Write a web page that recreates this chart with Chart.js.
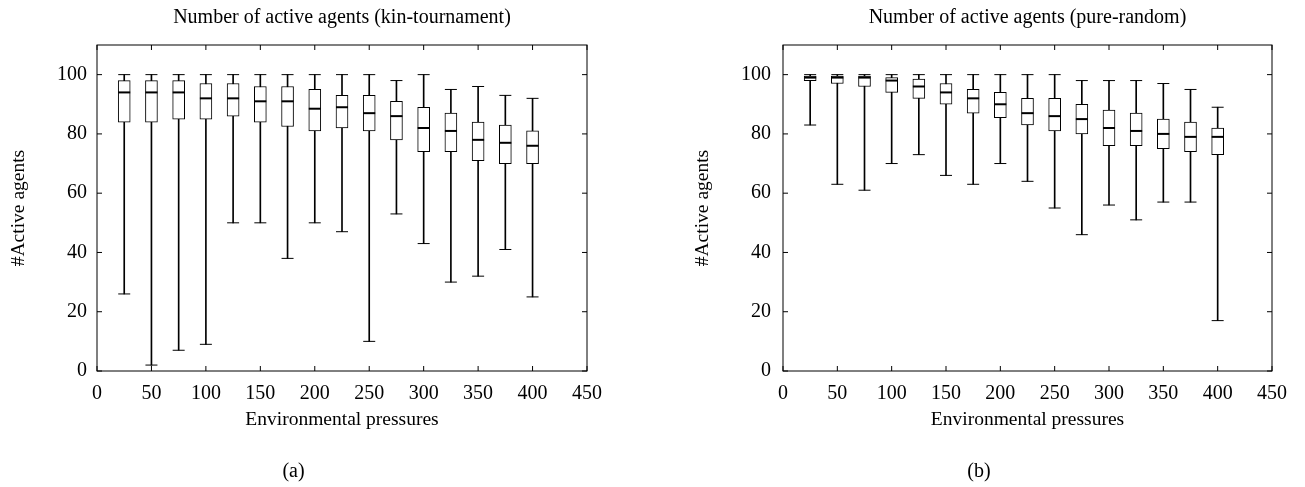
<!DOCTYPE html>
<html><head><meta charset="utf-8">
<script src="https://cdn.jsdelivr.net/npm/chart.js@4/dist/chart.umd.min.js"></script>
<style>
html,body{margin:0;padding:0;background:#fff;}
body{width:1305px;height:487px;position:relative;overflow:hidden;}
#c1{position:absolute;left:0;top:0;}
#c2{position:absolute;left:686px;top:0;}
</style></head><body>
<canvas id="c1" width="652" height="487"></canvas>
<canvas id="c2" width="619" height="487"></canvas>
<script>
// ---- data ----
const pressures = [25,50,75,100,125,150,175,200,225,250,275,300,325,350,375,400];
const xTickValues = [0,50,100,150,200,250,300,350,400,450];
const yTickValues = [0,20,40,60,80,100];

// kin-tournament
const kinMax = [100,100,100,100,100,100,100,100,100,100,98,100,95,96,93,92];
const kinQ3  = [98,98,98,97,97,96,96,95,93,93,91,89,87,84,83,81];
const kinMed = [94,94,94,92,92,91,91,88.5,89,87,86,82,81,78,77,76];
const kinQ1  = [84,84,85,85,86,84,82.5,81,82,81,78,74,74,71,70,70];
const kinMin = [26,2,7,9,50,50,38,50,47,10,53,43,30,32,41,25];

// pure-random
const randMax = [100,100,100,100,100,100,100,100,100,100,98,98,98,97,95,89];
const randQ3  = [99.5,99.5,99.5,99,98.5,97,95,94,92,92,90,88,87,85,84,82];
const randMed = [99,99,99,98,96,94,92,90,87,86,85,82,81,80,79,79];
const randQ1  = [98,97,96,94,92,90,87,85.5,83,81,80,76,76,75,74,73];
const randMin = [83,63,61,70,73,66,63,70,64,55,46,56,51,57,57,17];

Chart.defaults.font.family = "'Liberation Serif', 'Times New Roman', serif";
Chart.defaults.color = '#000';

const framePlugin = {
  id: 'frame',
  afterDatasetsDraw(chart) {
    const {ctx, chartArea: a, scales: {x, y}} = chart;
    ctx.save();
    ctx.strokeStyle = '#000';
    ctx.lineWidth = 1;
    ctx.strokeRect(a.left, a.top, a.right - a.left, a.bottom - a.top);
    const L = 5;
    ctx.beginPath();
    x.ticks.forEach(t => {
      const px = x.getPixelForValue(t.value);
      ctx.moveTo(px, a.bottom); ctx.lineTo(px, a.bottom - L);
      ctx.moveTo(px, a.top); ctx.lineTo(px, a.top + L);
    });
    y.ticks.forEach(t => {
      const py = y.getPixelForValue(t.value);
      ctx.moveTo(a.left, py); ctx.lineTo(a.left + L, py);
      ctx.moveTo(a.right, py); ctx.lineTo(a.right - L, py);
    });
    ctx.stroke();
    ctx.restore();
  }
};

function makeChart(id, title, caption, mins, q1s, meds, q3s, maxs, yTitlePad, yTickPad, rightPad) {
  const whiskers = pressures.map((p, i) => ({x: p, y: [mins[i], maxs[i]]}));
  const boxes = pressures.map((p, i) => ({x: p, y: [q1s[i], q3s[i]]}));
  const caps = pressures.map((p, i) => ({x: p, y: mins[i]})).concat(pressures.map((p, i) => ({x: p, y: maxs[i]})));
  const medians = pressures.map((p, i) => ({x: p, y: meds[i]}));
  return new Chart(document.getElementById(id), {
    type: 'bar',
    data: {
      datasets: [
        {type: 'bar', data: whiskers, backgroundColor: '#000', borderWidth: 0, barThickness: 1, grouped: false, order: 3},
        {type: 'bar', data: boxes, backgroundColor: '#fff', borderColor: '#000', borderWidth: 1, borderSkipped: false, barThickness: 12, grouped: false, order: 2},
        {type: 'scatter', data: caps, pointStyle: 'line', pointRadius: 6, borderColor: '#000', pointBorderWidth: 1, order: 1},
        {type: 'scatter', data: medians, pointStyle: 'line', pointRadius: 6, borderColor: '#000', pointBorderWidth: 2, order: 0}
      ]
    },
    options: {
      responsive: false,
      animation: false,
      events: [],
      layout: {padding: {left: 0, right: rightPad, top: 0, bottom: 0}},
      plugins: {
        legend: {display: false},
        tooltip: {enabled: false},
        title: {display: true, text: title, fullSize: false, font: {size: 20, weight: 'normal'}, padding: {top: 6, bottom: 15}},
        subtitle: {display: true, text: caption, position: 'bottom', fullSize: true, font: {size: 20, weight: 'normal'}, padding: {top: 10, bottom: 3}}
      },
      scales: {
        x: {
          type: 'linear', min: 0, max: 450, offset: false,
          afterBuildTicks: s => { s.ticks = xTickValues.map(v => ({value: v})); },
          afterFit: s => { s.height = 79; },
          grid: {display: false, drawTicks: false},
          border: {display: false},
          ticks: {font: {size: 20}, padding: 11, maxRotation: 0, autoSkip: false},
          title: {display: true, text: 'Environmental pressures', font: {size: 19.5}, padding: {top: 0, bottom: 18.6}}
        },
        y: {
          type: 'linear', min: 0, max: 110,
          afterBuildTicks: s => { s.ticks = yTickValues.map(v => ({value: v})); },
          afterFit: s => { s.width = 97; },
          grid: {display: false, drawTicks: false},
          border: {display: false},
          ticks: {font: {size: 20}, padding: yTickPad},
          title: {display: true, text: '#Active agents', font: {size: 19.5}, padding: {top: yTitlePad, bottom: 0}}
        }
      }
    },
    plugins: [framePlugin]
  });
}

makeChart('c1', 'Number of active agents (kin-tournament)', '(a)', kinMin, kinQ1, kinMed, kinQ3, kinMax, 7.3, 10, 65);
makeChart('c2', 'Number of active agents (pure-random)', '(b)', randMin, randQ1, randMed, randQ3, randMax, 5.3, 12, 33);
</script>
</body></html>
